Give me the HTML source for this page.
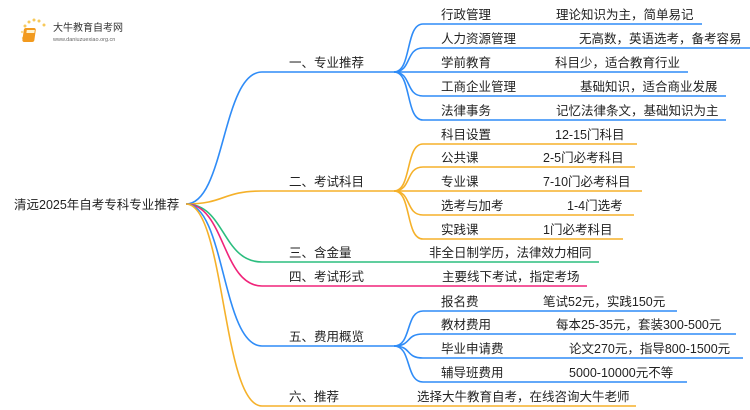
<!DOCTYPE html>
<html><head><meta charset="utf-8"><style>
html,body{margin:0;padding:0;background:#fff}
svg{display:block}
text{font-family:"Liberation Sans","Noto Sans CJK SC",sans-serif;font-size:12.5px;fill:#222}
</style></head><body>
<svg width="750" height="410" viewBox="0 0 750 410" xmlns="http://www.w3.org/2000/svg">
<g>
<circle cx="25" cy="26" r="1.5" fill="#f7c95a"/><circle cx="29" cy="22" r="1.5" fill="#f7c95a"/>
<circle cx="34" cy="20" r="1.5" fill="#f7c95a"/><circle cx="39" cy="21" r="1.5" fill="#f7c95a"/>
<circle cx="44" cy="25" r="1.5" fill="#f7c95a"/><circle cx="22" cy="32" r="1.2" fill="#f7d98a"/>
<circle cx="23" cy="38" r="1.2" fill="#f7d98a"/>
<rect x="28" y="28" width="12" height="14" rx="2" fill="#f29a1e" transform="skewX(-8)"/>
<rect x="31" y="30" width="8" height="3" fill="#fff3d0" transform="skewX(-8)"/>
<text x="53" y="31" style="font-size:10px;fill:#333">大牛教育自考网</text>
<text x="53" y="41" style="font-size:5.5px;fill:#666">www.daniuzuexiao.org.cn</text>
</g>
<g fill="none" stroke-width="1.6">
<path d="M186 204 C225 204 222 72 262 72 L394 72" stroke="#2f8cf7"/>
<path d="M186 204 C225 204 222 191 262 191 L394 191" stroke="#f5b12a"/>
<path d="M186 204 C225 204 222 262 262 262 L599 262" stroke="#2bbd7e"/>
<path d="M186 204 C225 204 222 286 262 286 L587 286" stroke="#f0247a"/>
<path d="M186 204 C225 204 222 346 262 346 L394 346" stroke="#2f8cf7"/>
<path d="M186 204 C225 204 222 406 262 406 L636 406" stroke="#f5b12a"/>
<g stroke="#2f8cf7">
<path d="M394 72 C412 72 405 24 423 24 L702 24"/>
<path d="M394 72 C412 72 405 48 423 48 L750 48"/>
<path d="M394 72 L688 72"/>
<path d="M394 72 C412 72 405 96 423 96 L726 96"/>
<path d="M394 72 C412 72 405 120 423 120 L726 120"/>
</g>
<g stroke="#f5b12a">
<path d="M394 191 C412 191 405 144 423 144 L637 144"/>
<path d="M394 191 C412 191 405 167 423 167 L635 167"/>
<path d="M394 191 L642 191"/>
<path d="M394 191 C412 191 405 215 423 215 L634 215"/>
<path d="M394 191 C412 191 405 239 423 239 L623 239"/>
</g>
<g stroke="#2f8cf7">
<path d="M394 346 C412 346 405 311 423 311 L677 311"/>
<path d="M394 346 C412 346 405 334 423 334 L736 334"/>
<path d="M394 346 C412 346 405 358 423 358 L743 358"/>
<path d="M394 346 C412 346 405 382 423 382 L687 382"/>
</g>
</g>
<text x="14" y="209">清远2025年自考专科专业推荐</text>
<text x="289" y="67">一、专业推荐</text>
<text x="289" y="186">二、考试科目</text>
<text x="289" y="257">三、含金量</text>
<text x="289" y="281">四、考试形式</text>
<text x="289" y="341">五、费用概览</text>
<text x="289" y="401">六、推荐</text>
<text x="429" y="257">非全日制学历，法律效力相同</text>
<text x="442" y="281">主要线下考试，指定考场</text>
<text x="417" y="401">选择大牛教育自考，在线咨询大牛老师</text>

<text x="441" y="19">行政管理</text><text x="556" y="19">理论知识为主，简单易记</text>
<text x="441" y="43">人力资源管理</text><text x="579" y="43">无高数，英语选考，备考容易</text>
<text x="441" y="67">学前教育</text><text x="555" y="67">科目少，适合教育行业</text>
<text x="441" y="91">工商企业管理</text><text x="580" y="91">基础知识，适合商业发展</text>
<text x="441" y="115">法律事务</text><text x="556" y="115">记忆法律条文，基础知识为主</text>

<text x="441" y="139">科目设置</text><text x="555" y="139">12-15门科目</text>
<text x="441" y="162">公共课</text><text x="543" y="162">2-5门必考科目</text>
<text x="441" y="186">专业课</text><text x="543" y="186">7-10门必考科目</text>
<text x="441" y="210">选考与加考</text><text x="567" y="210">1-4门选考</text>
<text x="441" y="234">实践课</text><text x="543" y="234">1门必考科目</text>

<text x="441" y="306">报名费</text><text x="543" y="306">笔试52元，实践150元</text>
<text x="441" y="329">教材费用</text><text x="556" y="329">每本25-35元，套装300-500元</text>
<text x="441" y="353">毕业申请费</text><text x="569" y="353">论文270元，指导800-1500元</text>
<text x="441" y="377">辅导班费用</text><text x="569" y="377">5000-10000元不等</text>
</svg>
</body></html>
